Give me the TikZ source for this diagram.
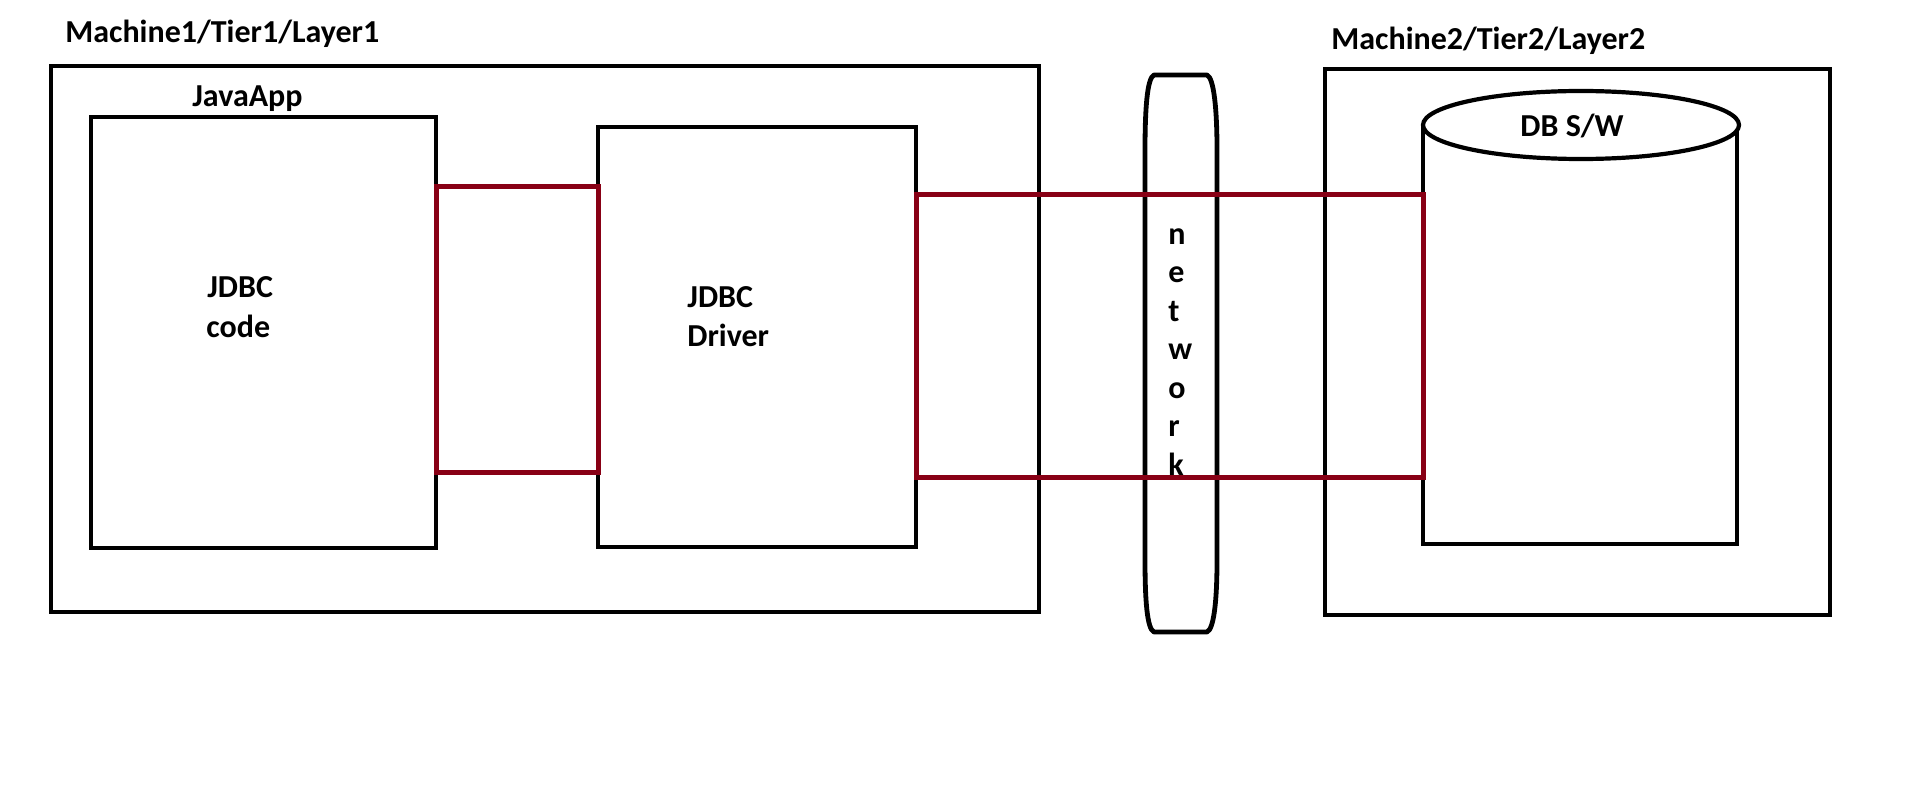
\documentclass[tikz,border=0pt]{standalone}
\usepackage{fontspec}
\setmainfont{Carlito}
\usetikzlibrary{fit,shapes.geometric}
\definecolor{wire}{RGB}{136,0,21}
\begin{document}
\begin{tikzpicture}[x=0.5pt,y=-0.5pt,
  box/.style={draw=black, line width=2.4pt, inner sep=0pt, outer sep=0pt},
  frame/.style={inner sep=0pt, outer sep=0pt},
  link/.style={draw=wire, line width=2.5pt},
  lbl/.style={inner sep=0pt, anchor=base west, font=\fontsize{16}{19}\selectfont\bfseries}]

\useasboundingbox[fill=white] (0,0) rectangle (1914,791);

% machine 1: Java application with code and driver
\node[box, fit={(51,66) (1039,612)}] (m1) {};
\node[box, fit={(91,117) (436,548)}] (code) {};
\node[box, fit={(598,127) (916,547)}] (drv) {};

% machine 2: database
\node[box, fit={(1325,69) (1830,615)}] (m2) {};
\node[frame, fit={(1423,124) (1737,544)}] (dbbody) {};
\draw[box] (dbbody.north west) -- (dbbody.south west) -- (dbbody.south east) -- (dbbody.north east);
\node[box, ellipse, line width=2.1pt, minimum width=158pt, minimum height=34pt, fill=white] (dbtop) at (1581,125) {};

% network pipe
\draw[box, line join=round]
  (1154,75) -- (1207,75) .. controls (1214,78) and (1217,110) .. (1217,150)
  -- (1217,560) .. controls (1217,600) and (1214,629) .. (1207,632)
  -- (1154,632) .. controls (1147,629) and (1145,600) .. (1145,560)
  -- (1145,150) .. controls (1145,110) and (1147,78) .. (1154,75) -- cycle;

% connections
\draw[link] (code.east |- 0,187) rectangle (drv.west |- 0,472);
\draw[link] (drv.east |- 0,195) rectangle (dbbody.west |- 0,477);

% labels
\node[lbl] (t1) at (65,43) {Machine1/Tier1/Layer1};
\node[lbl] (t2) at (1331,50) {Machine2/Tier2/Layer2};
\node[lbl] (app) at (192,107) {JavaApp};
\node[lbl] (codeA) at (207,297) {JDBC};
\node[lbl] (codeB) at (206,337) {code};
\node[lbl] (drvA) at (687,307) {JDBC};
\node[lbl] (drvB) at (687,346) {Driver};
\node[lbl, anchor=base] (dbl) at (1572,137) {DB S/W};
\foreach \ch [count=\i from 0] in {n,e,t,w,o,r,k}
  \node[lbl] (net\i) at (1168,244+38.5*\i) {\ch};
\end{tikzpicture}
\end{document}
